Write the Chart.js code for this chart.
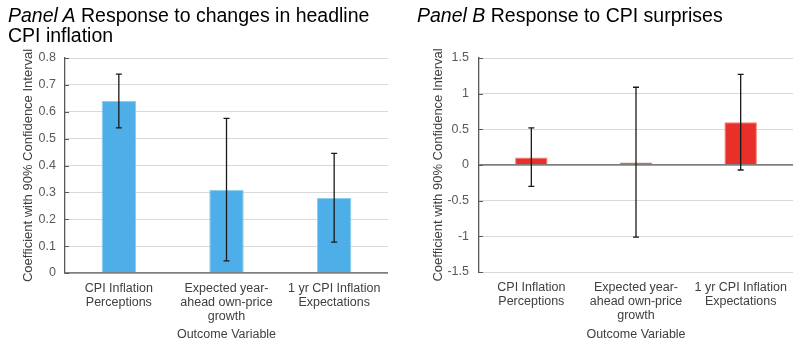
<!DOCTYPE html>
<html>
<head>
<meta charset="utf-8">
<script src="https://cdn.jsdelivr.net/npm/chart.js@4"></script>
<style>
  body { margin: 0; background: #fff; }
  #wrap { position: relative; width: 800px; height: 344px; overflow: hidden; }
  .box { position: absolute; top: 0; width: 400px; height: 344px; }
  .ttl { position: absolute; top: 5px; font: 19.5px/20px "Liberation Sans", Arial, sans-serif; color: #000; white-space: nowrap; }
</style>
</head>
<body>
<div id="wrap">
  <div class="box" style="left:0"><canvas id="graphA" width="400" height="344"></canvas></div>
  <div class="box" style="left:400px"><canvas id="graphB" width="400" height="344"></canvas></div>
  <div class="ttl" style="left:8px"><i>Panel A</i> Response to changes in headline<br>CPI inflation</div>
  <div class="ttl" style="left:417px"><i>Panel B</i> Response to CPI surprises</div>
</div>
<script>
  // categories (multi-line labels)
  const categories = [
    ['CPI Inflation', 'Perceptions'],
    ['Expected year-', 'ahead own-price', 'growth'],
    ['1 yr CPI Inflation', 'Expectations']
  ];
  // panel A: headline CPI inflation
  const coefA = [0.64, 0.31, 0.28];
  const lowA = [0.54, 0.045, 0.115];
  const highA = [0.74, 0.575, 0.445];
  // panel B: CPI surprises
  const coefB = [0.105, 0.035, 0.6];
  const lowB = [-0.3, -1.01, -0.07];
  const highB = [0.52, 1.09, 1.27];

  const FONT = '"Liberation Sans", Arial, sans-serif';

  //--------------------- error bars + inward tick marks ---------------------
  const whiskers = {
    id: 'whiskers',
    afterDatasetsDraw(chart, args, opts) {
      const c = chart.ctx;
      const ys = chart.scales.y;
      const meta = chart.getDatasetMeta(0);
      c.save();
      c.strokeStyle = '#1a1a1a';
      c.lineWidth = 1.3;
      meta.data.forEach((bar, i) => {
        const yHi = ys.getPixelForValue(opts.high[i]);
        const yLo = ys.getPixelForValue(opts.low[i]);
        c.beginPath();
        c.moveTo(bar.x, yHi); c.lineTo(bar.x, yLo);
        c.moveTo(bar.x - 3, yHi); c.lineTo(bar.x + 3, yHi);
        c.moveTo(bar.x - 3, yLo); c.lineTo(bar.x + 3, yLo);
        c.stroke();
      });
      // small tick marks inside the left axis
      c.strokeStyle = '#595959';
      c.lineWidth = 1;
      ys.ticks.forEach(t => {
        const y = Math.round(ys.getPixelForValue(t.value)) + 0.5;
        c.beginPath();
        c.moveTo(chart.chartArea.left, y); c.lineTo(chart.chartArea.left + 4, y);
        c.stroke();
      });
      c.restore();
    }
  };

  function makeChart(id, vals, low, high, opt) {
    return new Chart(document.getElementById(id), {
      type: 'bar',
      data: {
        labels: categories,
        datasets: [{
          data: vals,
          backgroundColor: opt.color,
          borderColor: opt.edge,
          borderWidth: 1,
          categoryPercentage: 1,
          barPercentage: opt.barPct
        }]
      },
      plugins: [whiskers],
      options: {
        responsive: false,
        animation: false,
        layout: { padding: { top: 58, right: opt.right, left: 0, bottom: 0 } },
        plugins: {
          legend: { display: false },
          tooltip: { enabled: false },
          whiskers: { low: low, high: high }
        },
        scales: {
          x: {
            grid: { display: false, drawTicks: false },
            border: { display: false },
            ticks: {
              color: '#404040', padding: 8, maxRotation: 0, autoSkip: false,
              font: { family: FONT, size: 12.5, lineHeight: 1.13 }
            },
            title: {
              display: true, text: 'Outcome Variable', color: '#404040',
              font: { family: FONT, size: 12.5 },
              padding: { top: 0, bottom: 1.5 }
            },
            afterFit: s => { s.height = opt.xh; }
          },
          y: {
            min: opt.min, max: opt.max,
            ticks: {
              stepSize: opt.step, color: '#595959', padding: opt.tickPad,
              font: { family: FONT, size: 12.5 },
              callback: v => String(+v.toFixed(1))
            },
            grid: {
              drawTicks: false,
              color: c => c.tick.value === 0 ? '#7f7f7f' : '#d9d9d9',
              lineWidth: c => c.tick.value === 0 ? 1.8 : 1
            },
            border: { display: true, color: '#595959', width: 1.3 },
            title: {
              display: true, text: 'Coefficient with 90% Confidence Interval', color: '#404040',
              font: { family: FONT, size: 13 },
              padding: { top: opt.titlePad, bottom: 0 }
            },
            afterFit: s => { s.width = opt.yw; }
          }
        }
      }
    });
  }

  makeChart('graphA', coefA, lowA, highA, {
    color: '#4daee8', edge: '#8ccdf3', barPct: 0.32,
    min: 0, max: 0.8, step: 0.1,
    right: 12, xh: 71, yw: 65, tickPad: 9, titlePad: 21
  });
  makeChart('graphB', coefB, lowB, highB, {
    color: '#e8302a', edge: '#f07a72', barPct: 0.31,
    min: -1.5, max: 1.5, step: 0.5,
    right: 7, xh: 72, yw: 79, tickPad: 10, titlePad: 31
  });
</script>
</body>
</html>
